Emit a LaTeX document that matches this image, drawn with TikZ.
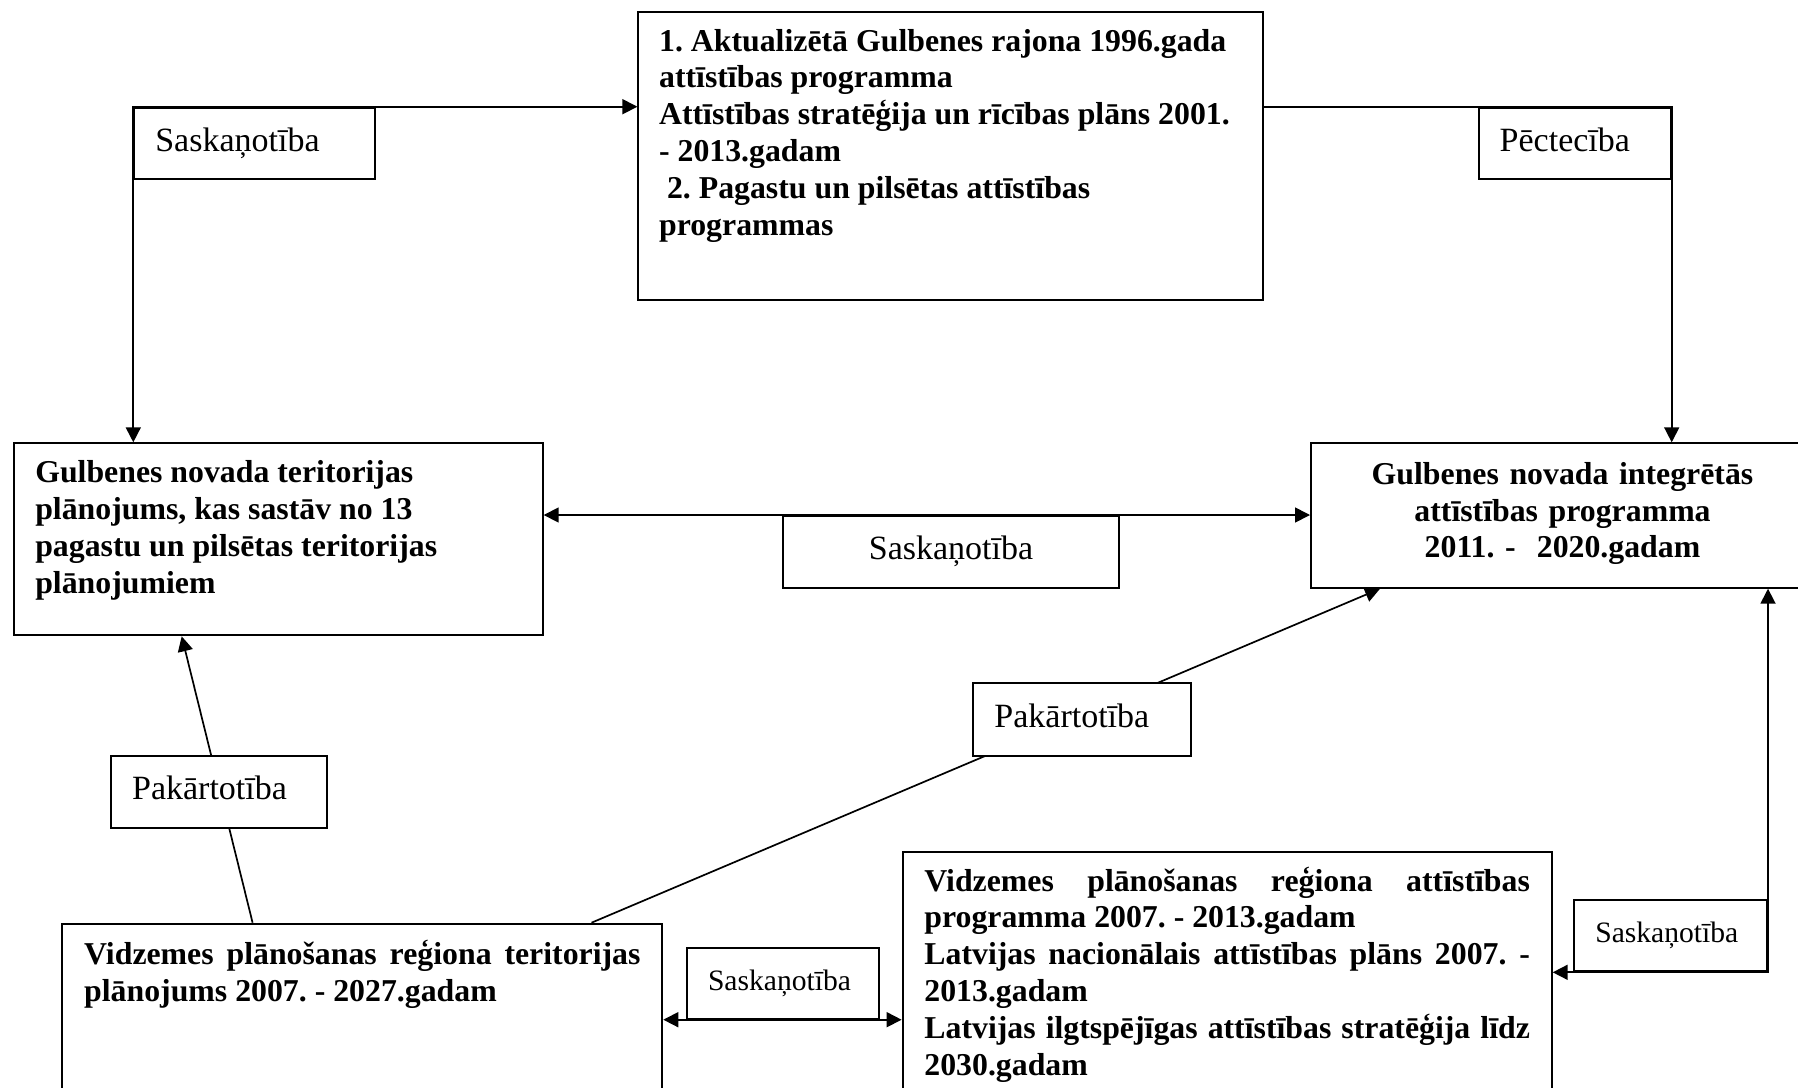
\documentclass[tikz,border=0pt]{standalone}
\usepackage{fontspec}
\setmainfont{Liberation Serif}
\usetikzlibrary{arrows.meta,positioning}
\tikzset{
	>={Triangle[length=7.5pt,width=7.5pt]}, % filled heads as in the scan
	link/.style={line width=0.85pt},
	frame/.style={draw, line width=1pt, anchor=north west, inner ysep=0pt},
	plan/.style={frame, inner xsep=0pt, font=\fontsize{15.9}{18.4}\selectfont\bfseries},
	tag/.style={frame, fill=white, inner xsep=10.5pt, text height=22pt, text depth=13.65pt,
		font=\fontsize{17}{20}\selectfont},
	smalltag/.style={tag, text height=21.3pt, text depth=14.2pt,
		font=\fontsize{14.8}{18}\selectfont},
}
\frenchspacing

\begin{document}
\begin{tikzpicture}[x=0.5pt, y=-0.5pt]
	\useasboundingbox (0,0) rectangle (1798,1087);
	\clip (0,0) rectangle (1798,1087);

	% plans and programmes
	\node[plan, text height=19.5pt, text depth=124.5pt] (prog) at (637.4,11)
		{\hspace*{10.35pt}\parbox[t]{301.95pt}{\raggedright 1. Aktualizētā Gulbenes rajona 1996.gada\\ attīstības programma\\ Attīstības stratēģija un rīcības plāns 2001.\\ - 2013.gadam\\ \hspace*{.25em}2. Pagastu un pilsētas attīstības\\ programmas}};
	\node[plan, text height=19.7pt, text depth=76.3pt] (terplan) at (13.3,442.3)
		{\hspace*{10.5pt}\parbox[t]{253.7pt}{\raggedright Gulbenes novada teritorijas\\ plānojums, kas sastāv no 13\\ pagastu un pilsētas teritorijas\\ plānojumiem}};
	\node[plan, text width=251.5pt, text height=20.5pt, text depth=51.7pt, align=center] (iap) at (1310,442.3)
		{Gulbenes novada integrētās\\ attīstības programma\\ 2011. -\ \ 2020.gadam};
	\node[plan, text height=20.3pt, text depth=120pt] (regplan) at (61.4,922.7)
		{\hspace*{10.9pt}\parbox[t]{278.15pt}{Vidzemes plānošanas reģiona teritorijas\linebreak plānojums 2007. - 2027.gadam}\hspace*{10.9pt}};
	\node[plan, text height=19.5pt, text depth=150pt] (regprog) at (901.6,851)
		{\hspace*{10.9pt}\parbox[t]{302.75pt}{Vidzemes plānošanas reģiona attīstības\linebreak programma 2007. - 2013.gadam\par
		Latvijas nacionālais attīstības plāns 2007. -\linebreak 2013.gadam\par
		Latvijas ilgtspējīgas attīstības stratēģija līdz\linebreak 2030.gadam}\hspace*{10.9pt}};

	% subordination lines run under their labels
	\draw[link, ->] ([xshift=95.6pt]regplan.north west) -- ([xshift=84.2pt]terplan.south west);
	\draw[link, ->] ([xshift=265.05pt]regplan.north west) -- ([xshift=35pt]iap.south west);

	% labels
	\node[tag, text width=99.35pt, align=left] (coord1) at (133.3,106.7) {Saskaņotība};
	\node[tag, text width=75pt, align=left] (succ) at (1477.7,106.7) {Pēctecība};
	\node[tag, text width=147.3pt, align=center, text height=21.65pt, text depth=14.2pt] (coord2) at (781.7,515) {Saskaņotība};
	\node[tag, text width=86.8pt, align=left, text depth=14.15pt] (sub1) at (110.1,754.5) {Pakārtotība};
	\node[tag, text width=87.8pt, align=left, text depth=14.1pt] (sub2) at (972.4,682.3) {Pakārtotība};
	\node[smalltag, text width=75.15pt, align=left] (coord3) at (686,946.7) {Saskaņotība};
	\node[smalltag, text width=75.35pt, align=left] (coord4) at (1573.3,899.3) {Saskaņotība};

	% links along the label edges
	\draw[link, <->] (terplan.north -| coord1.west) |- (prog.west |- coord1.north);
	\draw[link, ->] (prog.east |- succ.north) -| (iap.north -| succ.east);
	\draw[link, <->] (terplan.east |- coord2.north) -- (iap.west |- coord2.north);
	\draw[link, <->] (regplan.east |- coord3.south) -- (regprog.west |- coord3.south);
	\draw[link, <->] (regprog.east |- coord4.south) -| (iap.south -| coord4.east);
\end{tikzpicture}
\end{document}
